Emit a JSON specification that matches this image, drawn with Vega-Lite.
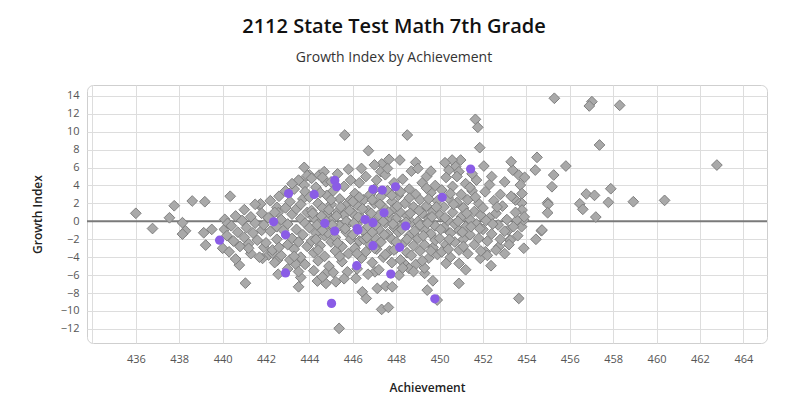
{
  "$schema": "https://vega.github.io/schema/vega-lite/v6.json",
  "width": 680,
  "height": 258,
  "autosize": "none",
  "padding": {"left": 87, "top": 85, "right": 18, "bottom": 61},
  "background": "white",
  "title": {
    "text": "2112 State Test Math 7th Grade",
    "subtitle": "Growth Index by Achievement",
    "anchor": "middle",
    "dx": -33,
    "offset": 20,
    "font": "Open Sans",
    "fontSize": 20,
    "fontWeight": 600,
    "color": "#111111",
    "subtitleFont": "Open Sans",
    "subtitleFontSize": 14,
    "subtitleColor": "#333333",
    "subtitlePadding": 14
  },
  "data": {"values": [
    {"ach":436.0,"growth":0.9,"grp":"other"},{"ach":436.77,"growth":-0.8,"grp":"other"},{"ach":437.77,"growth":1.74,"grp":"other"},{"ach":437.55,"growth":0.4,"grp":"other"},
    {"ach":438.6,"growth":2.27,"grp":"other"},{"ach":438.15,"growth":-0.15,"grp":"other"},{"ach":438.29,"growth":-1.05,"grp":"other"},{"ach":438.15,"growth":-1.42,"grp":"other"},
    {"ach":439.18,"growth":2.19,"grp":"other"},{"ach":439.13,"growth":-1.27,"grp":"other"},{"ach":439.22,"growth":-2.65,"grp":"other"},{"ach":439.5,"growth":-0.9,"grp":"other"},
    {"ach":440.1,"growth":0.22,"grp":"other"},{"ach":440.08,"growth":-0.9,"grp":"other"},{"ach":440.23,"growth":-0.22,"grp":"other"},{"ach":440.0,"growth":-3.0,"grp":"other"},
    {"ach":440.77,"growth":-4.88,"grp":"other"},{"ach":441.05,"growth":-6.9,"grp":"other"},{"ach":441.69,"growth":1.82,"grp":"other"},{"ach":441.75,"growth":1.95,"grp":"other"},
    {"ach":442.5,"growth":1.56,"grp":"other"},{"ach":442.56,"growth":0.96,"grp":"other"},{"ach":440.35,"growth":2.8,"grp":"other"},{"ach":442.56,"growth":-5.9,"grp":"other"},
    {"ach":443.5,"growth":-7.3,"grp":"other"},{"ach":443.38,"growth":-4.8,"grp":"other"},{"ach":443.6,"growth":-6.25,"grp":"other"},{"ach":444.37,"growth":-6.66,"grp":"other"},
    {"ach":444.76,"growth":-6.92,"grp":"other"},{"ach":445.22,"growth":-6.74,"grp":"other"},{"ach":444.76,"growth":-5.8,"grp":"other"},{"ach":445.37,"growth":-11.94,"grp":"other"},
    {"ach":445.75,"growth":-5.63,"grp":"other"},{"ach":446.14,"growth":-6.36,"grp":"other"},{"ach":446.44,"growth":-7.86,"grp":"other"},{"ach":446.62,"growth":-8.6,"grp":"other"},
    {"ach":442.53,"growth":-4.32,"grp":"other"},{"ach":442.12,"growth":-3.76,"grp":"other"},{"ach":441.84,"growth":-4.13,"grp":"other"},{"ach":442.3,"growth":-3.57,"grp":"other"},
    {"ach":447.33,"growth":-9.82,"grp":"other"},{"ach":447.64,"growth":-9.6,"grp":"other"},{"ach":447.13,"growth":-7.48,"grp":"other"},{"ach":447.52,"growth":-7.22,"grp":"other"},
    {"ach":447.82,"growth":-7.3,"grp":"other"},{"ach":447.02,"growth":-5.63,"grp":"other"},{"ach":448.13,"growth":-6.0,"grp":"other"},{"ach":448.44,"growth":-4.88,"grp":"other"},
    {"ach":448.59,"growth":-5.25,"grp":"other"},{"ach":449.31,"growth":-5.8,"grp":"other"},{"ach":449.69,"growth":-6.63,"grp":"other"},{"ach":449.43,"growth":-7.67,"grp":"other"},
    {"ach":449.89,"growth":-8.78,"grp":"other"},{"ach":450.89,"growth":-6.92,"grp":"other"},{"ach":450.3,"growth":-4.69,"grp":"other"},{"ach":452.37,"growth":-4.95,"grp":"other"},
    {"ach":451.88,"growth":-4.13,"grp":"other"},{"ach":452.11,"growth":-3.39,"grp":"other"},{"ach":453.88,"growth":-3.0,"grp":"other"},{"ach":453.23,"growth":-2.09,"grp":"other"},
    {"ach":452.73,"growth":-2.83,"grp":"other"},{"ach":453.65,"growth":-8.6,"grp":"other"},{"ach":454.44,"growth":-2.0,"grp":"other"},{"ach":454.69,"growth":-1.05,"grp":"other"},
    {"ach":453.74,"growth":-0.08,"grp":"other"},{"ach":453.78,"growth":-0.6,"grp":"other"},{"ach":453.88,"growth":0.15,"grp":"other"},{"ach":453.57,"growth":0.15,"grp":"other"},
    {"ach":453.18,"growth":-0.97,"grp":"other"},{"ach":453.26,"growth":-2.09,"grp":"other"},{"ach":453.78,"growth":2.04,"grp":"other"},{"ach":453.8,"growth":1.26,"grp":"other"},
    {"ach":453.5,"growth":2.38,"grp":"other"},{"ach":453.42,"growth":2.57,"grp":"other"},{"ach":453.72,"growth":4.05,"grp":"other"},{"ach":453.65,"growth":5.17,"grp":"other"},
    {"ach":453.92,"growth":4.91,"grp":"other"},{"ach":453.37,"growth":5.72,"grp":"other"},{"ach":453.3,"growth":6.65,"grp":"other"},{"ach":454.49,"growth":7.14,"grp":"other"},
    {"ach":454.41,"growth":5.72,"grp":"other"},{"ach":455.82,"growth":6.17,"grp":"other"},{"ach":455.26,"growth":5.17,"grp":"other"},{"ach":455.18,"growth":3.86,"grp":"other"},
    {"ach":454.98,"growth":2.08,"grp":"other"},{"ach":455.0,"growth":1.9,"grp":"other"},{"ach":454.98,"growth":0.96,"grp":"other"},{"ach":454.72,"growth":-0.97,"grp":"other"},
    {"ach":455.29,"growth":13.73,"grp":"other"},{"ach":457.02,"growth":13.35,"grp":"other"},{"ach":456.9,"growth":12.87,"grp":"other"},{"ach":458.3,"growth":12.94,"grp":"other"},
    {"ach":457.37,"growth":8.52,"grp":"other"},{"ach":462.78,"growth":6.28,"grp":"other"},{"ach":456.76,"growth":3.05,"grp":"other"},{"ach":457.14,"growth":2.9,"grp":"other"},
    {"ach":457.89,"growth":3.64,"grp":"other"},{"ach":456.46,"growth":1.96,"grp":"other"},{"ach":456.6,"growth":1.34,"grp":"other"},{"ach":457.78,"growth":2.12,"grp":"other"},
    {"ach":458.93,"growth":2.19,"grp":"other"},{"ach":460.37,"growth":2.34,"grp":"other"},{"ach":457.2,"growth":0.48,"grp":"other"},{"ach":451.65,"growth":11.38,"grp":"other"},
    {"ach":451.76,"growth":10.49,"grp":"other"},{"ach":451.85,"growth":8.22,"grp":"other"},{"ach":448.51,"growth":9.63,"grp":"other"},{"ach":445.63,"growth":9.63,"grp":"other"},
    {"ach":446.72,"growth":7.88,"grp":"other"},{"ach":447.67,"growth":6.92,"grp":"other"},{"ach":448.17,"growth":6.84,"grp":"other"},{"ach":448.9,"growth":6.58,"grp":"other"},
    {"ach":452.04,"growth":6.17,"grp":"other"},{"ach":450.97,"growth":6.84,"grp":"other"},{"ach":450.58,"growth":6.84,"grp":"other"},{"ach":450.25,"growth":6.54,"grp":"other"},
    {"ach":450.74,"growth":6.1,"grp":"other"},{"ach":450.43,"growth":5.72,"grp":"other"},{"ach":450.89,"growth":5.54,"grp":"other"},{"ach":447.33,"growth":6.4,"grp":"other"},
    {"ach":447.29,"growth":5.54,"grp":"other"},{"ach":443.76,"growth":6.02,"grp":"other"},{"ach":444.0,"growth":5.17,"grp":"other"},{"ach":444.45,"growth":5.17,"grp":"other"},
    {"ach":444.68,"growth":5.54,"grp":"other"},{"ach":444.76,"growth":4.42,"grp":"other"},{"ach":443.61,"growth":4.42,"grp":"other"},{"ach":443.76,"growth":4.05,"grp":"other"},
    {"ach":440.2,"growth":-1.6,"grp":"other"},{"ach":440.4,"growth":-0.5,"grp":"other"},{"ach":440.5,"growth":-2.2,"grp":"other"},{"ach":440.6,"growth":0.6,"grp":"other"},
    {"ach":440.7,"growth":-1.2,"grp":"other"},{"ach":440.8,"growth":-2.8,"grp":"other"},{"ach":440.9,"growth":0.1,"grp":"other"},{"ach":441.0,"growth":-1.8,"grp":"other"},
    {"ach":441.1,"growth":-0.7,"grp":"other"},{"ach":441.2,"growth":-2.5,"grp":"other"},{"ach":441.3,"growth":0.5,"grp":"other"},{"ach":441.3,"growth":-3.6,"grp":"other"},
    {"ach":441.4,"growth":-1.3,"grp":"other"},{"ach":441.5,"growth":-0.2,"grp":"other"},{"ach":441.6,"growth":-2.1,"grp":"other"},{"ach":441.7,"growth":-4.0,"grp":"other"},
    {"ach":441.8,"growth":0.9,"grp":"other"},{"ach":441.8,"growth":-1.0,"grp":"other"},{"ach":441.9,"growth":-2.9,"grp":"other"},{"ach":441.9,"growth":-0.4,"grp":"other"},
    {"ach":440.3,"growth":-3.4,"grp":"other"},{"ach":441.0,"growth":1.3,"grp":"other"},{"ach":441.5,"growth":1.9,"grp":"other"},{"ach":440.6,"growth":-4.2,"grp":"other"},
    {"ach":441.2,"growth":-3.0,"grp":"other"},
    {"ach":442.0,"growth":-2.4,"grp":"other"},{"ach":442.1,"growth":0.4,"grp":"other"},{"ach":442.2,"growth":-1.1,"grp":"other"},{"ach":442.2,"growth":2.3,"grp":"other"},
    {"ach":442.3,"growth":-3.2,"grp":"other"},{"ach":442.4,"growth":1.0,"grp":"other"},{"ach":442.5,"growth":-0.6,"grp":"other"},{"ach":442.5,"growth":-2.0,"grp":"other"},
    {"ach":442.6,"growth":2.8,"grp":"other"},{"ach":442.7,"growth":-3.8,"grp":"other"},{"ach":442.7,"growth":0.2,"grp":"other"},{"ach":442.8,"growth":-1.0,"grp":"other"},
    {"ach":442.9,"growth":1.5,"grp":"other"},{"ach":443.0,"growth":-2.6,"grp":"other"},{"ach":443.0,"growth":-0.3,"grp":"other"},{"ach":443.1,"growth":2.2,"grp":"other"},
    {"ach":443.1,"growth":-4.3,"grp":"other"},{"ach":443.2,"growth":0.8,"grp":"other"},{"ach":443.2,"growth":-1.9,"grp":"other"},{"ach":443.3,"growth":-3.1,"grp":"other"},
    {"ach":443.3,"growth":3.6,"grp":"other"},{"ach":443.4,"growth":-0.9,"grp":"other"},{"ach":443.4,"growth":1.4,"grp":"other"},{"ach":443.5,"growth":-2.3,"grp":"other"},
    {"ach":443.5,"growth":4.6,"grp":"other"},{"ach":443.6,"growth":0.3,"grp":"other"},{"ach":443.6,"growth":-4.0,"grp":"other"},{"ach":443.7,"growth":2.5,"grp":"other"},
    {"ach":443.7,"growth":-1.5,"grp":"other"},{"ach":443.8,"growth":-0.2,"grp":"other"},{"ach":443.8,"growth":3.3,"grp":"other"},{"ach":443.9,"growth":-2.8,"grp":"other"},
    {"ach":443.9,"growth":1.0,"grp":"other"},{"ach":443.9,"growth":5.1,"grp":"other"},{"ach":442.4,"growth":-4.6,"grp":"other"},{"ach":443.0,"growth":-5.3,"grp":"other"},
    {"ach":443.5,"growth":-5.6,"grp":"other"},{"ach":442.9,"growth":3.4,"grp":"other"},{"ach":443.3,"growth":-3.9,"grp":"other"},{"ach":443.8,"growth":-4.8,"grp":"other"},
    {"ach":442.6,"growth":-2.9,"grp":"other"},{"ach":443.2,"growth":4.2,"grp":"other"},{"ach":443.6,"growth":1.9,"grp":"other"},
    {"ach":444.0,"growth":-0.7,"grp":"other"},{"ach":444.0,"growth":2.7,"grp":"other"},{"ach":444.1,"growth":-2.2,"grp":"other"},{"ach":444.1,"growth":1.2,"grp":"other"},
    {"ach":444.2,"growth":-3.5,"grp":"other"},{"ach":444.2,"growth":0.4,"grp":"other"},{"ach":444.3,"growth":-1.3,"grp":"other"},{"ach":444.3,"growth":3.8,"grp":"other"},
    {"ach":444.4,"growth":-4.4,"grp":"other"},{"ach":444.4,"growth":2.0,"grp":"other"},{"ach":444.5,"growth":-0.1,"grp":"other"},{"ach":444.5,"growth":-2.7,"grp":"other"},
    {"ach":444.6,"growth":1.5,"grp":"other"},{"ach":444.6,"growth":4.9,"grp":"other"},{"ach":444.7,"growth":-1.6,"grp":"other"},{"ach":444.7,"growth":-3.9,"grp":"other"},
    {"ach":444.8,"growth":0.8,"grp":"other"},{"ach":444.8,"growth":2.9,"grp":"other"},{"ach":444.9,"growth":-0.9,"grp":"other"},{"ach":444.9,"growth":-5.0,"grp":"other"},
    {"ach":445.0,"growth":1.9,"grp":"other"},{"ach":445.0,"growth":-2.3,"grp":"other"},{"ach":445.1,"growth":0.3,"grp":"other"},{"ach":445.1,"growth":3.4,"grp":"other"},
    {"ach":445.2,"growth":-1.8,"grp":"other"},{"ach":445.2,"growth":-3.3,"grp":"other"},{"ach":445.3,"growth":1.1,"grp":"other"},{"ach":445.3,"growth":5.3,"grp":"other"},
    {"ach":445.4,"growth":-0.5,"grp":"other"},{"ach":445.4,"growth":2.5,"grp":"other"},{"ach":445.5,"growth":-2.8,"grp":"other"},{"ach":445.5,"growth":-4.5,"grp":"other"},
    {"ach":445.6,"growth":0.7,"grp":"other"},{"ach":445.6,"growth":3.9,"grp":"other"},{"ach":445.7,"growth":-1.2,"grp":"other"},{"ach":445.7,"growth":1.8,"grp":"other"},
    {"ach":445.8,"growth":-3.6,"grp":"other"},{"ach":445.8,"growth":-0.2,"grp":"other"},{"ach":445.9,"growth":2.4,"grp":"other"},{"ach":445.9,"growth":4.6,"grp":"other"},
    {"ach":445.9,"growth":-2.0,"grp":"other"},{"ach":444.2,"growth":-5.5,"grp":"other"},{"ach":444.6,"growth":-6.2,"grp":"other"},{"ach":445.1,"growth":-5.7,"grp":"other"},
    {"ach":445.6,"growth":-6.4,"grp":"other"},{"ach":444.5,"growth":3.2,"grp":"other"},{"ach":445.0,"growth":4.4,"grp":"other"},{"ach":445.8,"growth":5.8,"grp":"other"},
    {"ach":444.3,"growth":-2.0,"grp":"other"},{"ach":444.9,"growth":1.3,"grp":"other"},{"ach":445.4,"growth":-3.9,"grp":"other"},{"ach":445.7,"growth":0.0,"grp":"other"},
    {"ach":444.1,"growth":4.8,"grp":"other"},{"ach":444.7,"growth":0.2,"grp":"other"},
    {"ach":446.0,"growth":0.9,"grp":"other"},{"ach":446.0,"growth":-1.5,"grp":"other"},{"ach":446.1,"growth":3.1,"grp":"other"},{"ach":446.1,"growth":-3.0,"grp":"other"},
    {"ach":446.2,"growth":1.8,"grp":"other"},{"ach":446.2,"growth":-0.3,"grp":"other"},{"ach":446.3,"growth":-2.2,"grp":"other"},{"ach":446.3,"growth":4.3,"grp":"other"},
    {"ach":446.4,"growth":0.4,"grp":"other"},{"ach":446.4,"growth":-4.1,"grp":"other"},{"ach":446.5,"growth":2.4,"grp":"other"},{"ach":446.5,"growth":-1.1,"grp":"other"},
    {"ach":446.6,"growth":-3.4,"grp":"other"},{"ach":446.6,"growth":5.0,"grp":"other"},{"ach":446.7,"growth":1.2,"grp":"other"},{"ach":446.7,"growth":-0.6,"grp":"other"},
    {"ach":446.8,"growth":-2.6,"grp":"other"},{"ach":446.8,"growth":3.0,"grp":"other"},{"ach":446.9,"growth":0.1,"grp":"other"},{"ach":446.9,"growth":-4.6,"grp":"other"},
    {"ach":447.0,"growth":2.0,"grp":"other"},{"ach":447.0,"growth":-1.8,"grp":"other"},{"ach":447.1,"growth":4.6,"grp":"other"},{"ach":447.1,"growth":-3.1,"grp":"other"},
    {"ach":447.2,"growth":0.7,"grp":"other"},{"ach":447.2,"growth":-0.9,"grp":"other"},{"ach":447.3,"growth":2.8,"grp":"other"},{"ach":447.3,"growth":-2.3,"grp":"other"},
    {"ach":447.4,"growth":-4.0,"grp":"other"},{"ach":447.4,"growth":1.6,"grp":"other"},{"ach":447.5,"growth":-0.2,"grp":"other"},{"ach":447.5,"growth":5.2,"grp":"other"},
    {"ach":447.6,"growth":-1.4,"grp":"other"},{"ach":447.6,"growth":3.4,"grp":"other"},{"ach":447.7,"growth":-3.3,"grp":"other"},{"ach":447.7,"growth":0.5,"grp":"other"},
    {"ach":447.8,"growth":2.2,"grp":"other"},{"ach":447.8,"growth":-2.0,"grp":"other"},{"ach":447.9,"growth":-0.7,"grp":"other"},{"ach":447.9,"growth":4.3,"grp":"other"},
    {"ach":446.2,"growth":-5.3,"grp":"other"},{"ach":446.7,"growth":-5.9,"grp":"other"},{"ach":447.2,"growth":-5.4,"grp":"other"},{"ach":447.8,"growth":-4.6,"grp":"other"},
    {"ach":446.4,"growth":5.9,"grp":"other"},{"ach":447.0,"growth":6.3,"grp":"other"},{"ach":447.6,"growth":5.9,"grp":"other"},{"ach":446.5,"growth":-2.0,"grp":"other"},
    {"ach":447.0,"growth":3.6,"grp":"other"},{"ach":447.4,"growth":0.0,"grp":"other"},{"ach":447.9,"growth":1.4,"grp":"other"},{"ach":446.9,"growth":-1.2,"grp":"other"},
    {"ach":446.3,"growth":2.7,"grp":"other"},{"ach":447.5,"growth":-3.7,"grp":"other"},
    {"ach":448.0,"growth":0.3,"grp":"other"},{"ach":448.0,"growth":-3.0,"grp":"other"},{"ach":448.1,"growth":2.9,"grp":"other"},{"ach":448.1,"growth":-1.2,"grp":"other"},
    {"ach":448.2,"growth":1.0,"grp":"other"},{"ach":448.2,"growth":-4.3,"grp":"other"},{"ach":448.3,"growth":4.7,"grp":"other"},{"ach":448.3,"growth":-0.4,"grp":"other"},
    {"ach":448.4,"growth":-2.3,"grp":"other"},{"ach":448.4,"growth":2.0,"grp":"other"},{"ach":448.5,"growth":0.6,"grp":"other"},{"ach":448.5,"growth":-3.5,"grp":"other"},
    {"ach":448.6,"growth":3.6,"grp":"other"},{"ach":448.6,"growth":-1.6,"grp":"other"},{"ach":448.7,"growth":5.6,"grp":"other"},{"ach":448.7,"growth":-0.1,"grp":"other"},
    {"ach":448.8,"growth":-2.7,"grp":"other"},{"ach":448.8,"growth":1.6,"grp":"other"},{"ach":448.9,"growth":-4.8,"grp":"other"},{"ach":448.9,"growth":3.0,"grp":"other"},
    {"ach":449.0,"growth":0.0,"grp":"other"},{"ach":449.0,"growth":-1.9,"grp":"other"},{"ach":449.1,"growth":2.4,"grp":"other"},{"ach":449.1,"growth":-3.3,"grp":"other"},
    {"ach":449.2,"growth":4.3,"grp":"other"},{"ach":449.2,"growth":0.9,"grp":"other"},{"ach":449.3,"growth":-0.9,"grp":"other"},{"ach":449.3,"growth":-2.6,"grp":"other"},
    {"ach":449.4,"growth":1.7,"grp":"other"},{"ach":449.4,"growth":5.0,"grp":"other"},{"ach":449.5,"growth":-4.1,"grp":"other"},{"ach":449.5,"growth":0.3,"grp":"other"},
    {"ach":449.6,"growth":3.2,"grp":"other"},{"ach":449.6,"growth":-1.4,"grp":"other"},{"ach":449.7,"growth":-2.9,"grp":"other"},{"ach":449.7,"growth":1.1,"grp":"other"},
    {"ach":449.8,"growth":4.0,"grp":"other"},{"ach":449.8,"growth":-0.5,"grp":"other"},{"ach":449.9,"growth":2.3,"grp":"other"},{"ach":449.9,"growth":-3.7,"grp":"other"},
    {"ach":448.3,"growth":-5.2,"grp":"other"},{"ach":448.8,"growth":-5.6,"grp":"other"},{"ach":449.3,"growth":-5.2,"grp":"other"},{"ach":449.0,"growth":5.9,"grp":"other"},
    {"ach":449.6,"growth":5.6,"grp":"other"},{"ach":448.5,"growth":-2.0,"grp":"other"},{"ach":449.1,"growth":-0.4,"grp":"other"},{"ach":449.4,"growth":3.7,"grp":"other"},
    {"ach":448.2,"growth":3.3,"grp":"other"},{"ach":449.8,"growth":-2.1,"grp":"other"},
    {"ach":450.0,"growth":0.7,"grp":"other"},{"ach":450.0,"growth":-1.9,"grp":"other"},{"ach":450.1,"growth":3.5,"grp":"other"},{"ach":450.1,"growth":-3.4,"grp":"other"},
    {"ach":450.2,"growth":1.6,"grp":"other"},{"ach":450.2,"growth":-0.7,"grp":"other"},{"ach":450.3,"growth":4.9,"grp":"other"},{"ach":450.3,"growth":-2.6,"grp":"other"},
    {"ach":450.4,"growth":0.1,"grp":"other"},{"ach":450.4,"growth":2.6,"grp":"other"},{"ach":450.5,"growth":-1.3,"grp":"other"},{"ach":450.5,"growth":-4.0,"grp":"other"},
    {"ach":450.6,"growth":3.9,"grp":"other"},{"ach":450.6,"growth":1.0,"grp":"other"},{"ach":450.7,"growth":-0.3,"grp":"other"},{"ach":450.7,"growth":-2.3,"grp":"other"},
    {"ach":450.8,"growth":2.1,"grp":"other"},{"ach":450.8,"growth":5.0,"grp":"other"},{"ach":450.9,"growth":-1.0,"grp":"other"},{"ach":450.9,"growth":-3.2,"grp":"other"},
    {"ach":451.0,"growth":0.5,"grp":"other"},{"ach":451.0,"growth":3.0,"grp":"other"},{"ach":451.1,"growth":-2.0,"grp":"other"},{"ach":451.1,"growth":1.5,"grp":"other"},
    {"ach":451.2,"growth":4.2,"grp":"other"},{"ach":451.2,"growth":-0.6,"grp":"other"},{"ach":451.3,"growth":-3.6,"grp":"other"},{"ach":451.3,"growth":2.4,"grp":"other"},
    {"ach":451.4,"growth":0.2,"grp":"other"},{"ach":451.4,"growth":-1.5,"grp":"other"},{"ach":451.5,"growth":3.4,"grp":"other"},{"ach":451.6,"growth":-2.6,"grp":"other"},
    {"ach":451.6,"growth":1.1,"grp":"other"},{"ach":451.7,"growth":4.6,"grp":"other"},{"ach":451.7,"growth":-0.3,"grp":"other"},{"ach":451.8,"growth":2.0,"grp":"other"},
    {"ach":451.8,"growth":-1.9,"grp":"other"},{"ach":451.9,"growth":-3.3,"grp":"other"},{"ach":451.9,"growth":0.7,"grp":"other"},{"ach":451.5,"growth":5.3,"grp":"other"},
    {"ach":450.9,"growth":-4.7,"grp":"other"},{"ach":451.2,"growth":-5.4,"grp":"other"},
    {"ach":452.0,"growth":1.5,"grp":"other"},{"ach":452.0,"growth":-0.9,"grp":"other"},{"ach":452.1,"growth":3.3,"grp":"other"},{"ach":452.2,"growth":-2.2,"grp":"other"},
    {"ach":452.3,"growth":0.4,"grp":"other"},{"ach":452.3,"growth":4.1,"grp":"other"},{"ach":452.4,"growth":-1.4,"grp":"other"},{"ach":452.5,"growth":2.3,"grp":"other"},
    {"ach":452.6,"growth":-3.2,"grp":"other"},{"ach":452.6,"growth":0.9,"grp":"other"},{"ach":452.7,"growth":-0.4,"grp":"other"},{"ach":452.8,"growth":3.0,"grp":"other"},
    {"ach":452.8,"growth":-2.0,"grp":"other"},{"ach":452.9,"growth":1.7,"grp":"other"},{"ach":453.0,"growth":-1.1,"grp":"other"},{"ach":453.0,"growth":4.4,"grp":"other"},
    {"ach":453.1,"growth":0.2,"grp":"other"},{"ach":453.2,"growth":-2.6,"grp":"other"},{"ach":453.3,"growth":2.8,"grp":"other"},{"ach":453.4,"growth":-0.6,"grp":"other"},
    {"ach":453.5,"growth":1.0,"grp":"other"},{"ach":453.6,"growth":-1.6,"grp":"other"},{"ach":453.8,"growth":3.1,"grp":"other"},{"ach":453.9,"growth":0.5,"grp":"other"},
    {"ach":452.4,"growth":5.0,"grp":"other"},{"ach":452.2,"growth":-3.8,"grp":"other"},{"ach":453.0,"growth":-3.6,"grp":"other"},
    {"ach":444.15,"growth":0.9,"grp":"other"},{"ach":444.35,"growth":-0.4,"grp":"other"},{"ach":444.55,"growth":0.6,"grp":"other"},{"ach":444.85,"growth":-1.3,"grp":"other"},
    {"ach":445.05,"growth":-0.4,"grp":"other"},{"ach":445.25,"growth":0.6,"grp":"other"},{"ach":445.45,"growth":1.6,"grp":"other"},{"ach":445.65,"growth":-0.8,"grp":"other"},
    {"ach":445.85,"growth":1.2,"grp":"other"},{"ach":446.05,"growth":-0.2,"grp":"other"},{"ach":446.25,"growth":0.5,"grp":"other"},{"ach":446.45,"growth":1.4,"grp":"other"},
    {"ach":446.65,"growth":-1.8,"grp":"other"},{"ach":446.85,"growth":0.9,"grp":"other"},{"ach":447.05,"growth":-0.4,"grp":"other"},{"ach":447.25,"growth":1.9,"grp":"other"},
    {"ach":447.45,"growth":-1.5,"grp":"other"},{"ach":447.65,"growth":1.0,"grp":"other"},{"ach":447.85,"growth":-0.3,"grp":"other"},{"ach":448.05,"growth":1.7,"grp":"other"},
    {"ach":448.25,"growth":-0.9,"grp":"other"},{"ach":448.45,"growth":-0.1,"grp":"other"},{"ach":448.65,"growth":0.9,"grp":"other"},{"ach":448.85,"growth":-1.1,"grp":"other"},
    {"ach":449.05,"growth":1.2,"grp":"other"},{"ach":449.25,"growth":-1.6,"grp":"other"},{"ach":449.45,"growth":-0.2,"grp":"other"},{"ach":449.65,"growth":0.5,"grp":"other"},
    {"ach":449.85,"growth":1.6,"grp":"other"},{"ach":450.05,"growth":-0.9,"grp":"other"},{"ach":450.25,"growth":0.4,"grp":"other"},{"ach":450.45,"growth":-2.0,"grp":"other"},
    {"ach":450.65,"growth":1.9,"grp":"other"},{"ach":450.85,"growth":0.0,"grp":"other"},{"ach":451.05,"growth":-1.2,"grp":"other"},{"ach":451.25,"growth":0.9,"grp":"other"},
    {"ach":451.45,"growth":-0.6,"grp":"other"},{"ach":451.65,"growth":2.7,"grp":"other"},{"ach":451.85,"growth":-0.8,"grp":"other"},{"ach":452.15,"growth":0.1,"grp":"other"},
    {"ach":452.45,"growth":-0.3,"grp":"other"},{"ach":452.65,"growth":1.6,"grp":"other"},{"ach":444.4,"growth":-3.2,"grp":"other"},{"ach":445.3,"growth":-2.4,"grp":"other"},
    {"ach":446.2,"growth":-3.6,"grp":"other"},{"ach":447.0,"growth":-3.0,"grp":"other"},{"ach":447.9,"growth":-3.2,"grp":"other"},{"ach":448.7,"growth":-3.8,"grp":"other"},
    {"ach":449.6,"growth":-3.3,"grp":"other"},{"ach":450.4,"growth":-3.1,"grp":"other"},{"ach":451.1,"growth":-2.8,"grp":"other"},{"ach":445.0,"growth":2.4,"grp":"other"},
    {"ach":446.0,"growth":2.2,"grp":"other"},{"ach":446.9,"growth":2.4,"grp":"other"},{"ach":447.8,"growth":2.9,"grp":"other"},{"ach":448.6,"growth":2.6,"grp":"other"},
    {"ach":449.5,"growth":2.5,"grp":"other"},{"ach":450.5,"growth":3.1,"grp":"other"},{"ach":451.4,"growth":3.8,"grp":"other"},{"ach":444.6,"growth":-1.0,"grp":"other"},
    {"ach":448.0,"growth":-2.3,"grp":"other"},{"ach":449.2,"growth":-4.4,"grp":"other"},
    {"ach":439.86,"growth":-2.1,"grp":"student"},{"ach":442.35,"growth":-0.05,"grp":"student"},{"ach":443.04,"growth":3.1,"grp":"student"},{"ach":442.9,"growth":-1.5,"grp":"student"},
    {"ach":442.9,"growth":-5.75,"grp":"student"},{"ach":444.22,"growth":3.0,"grp":"student"},{"ach":445.17,"growth":4.57,"grp":"student"},{"ach":445.26,"growth":3.86,"grp":"student"},
    {"ach":444.71,"growth":-0.22,"grp":"student"},{"ach":446.57,"growth":0.2,"grp":"student"},{"ach":446.21,"growth":-0.8,"grp":"student"},{"ach":445.17,"growth":-1.08,"grp":"student"},
    {"ach":446.24,"growth":-0.97,"grp":"student"},{"ach":446.18,"growth":-4.95,"grp":"student"},{"ach":445.02,"growth":-9.15,"grp":"student"},{"ach":446.93,"growth":3.57,"grp":"student"},
    {"ach":447.36,"growth":3.49,"grp":"student"},{"ach":447.97,"growth":3.86,"grp":"student"},{"ach":450.12,"growth":2.68,"grp":"student"},{"ach":451.43,"growth":5.84,"grp":"student"},
    {"ach":447.44,"growth":0.96,"grp":"student"},{"ach":446.93,"growth":-0.15,"grp":"student"},{"ach":448.44,"growth":-0.52,"grp":"student"},{"ach":446.93,"growth":-2.72,"grp":"student"},
    {"ach":448.16,"growth":-2.9,"grp":"student"},{"ach":447.75,"growth":-5.88,"grp":"student"},{"ach":449.78,"growth":-8.64,"grp":"student"}
  ]},
  "layer": [
    {
      "data": {"values": [{"zero": 0}]},
      "mark": {"type": "rule", "color": "#7a7a7a", "strokeWidth": 2},
      "encoding": {
        "y": {"field": "zero", "type": "quantitative", "scale": {"domain": [-13.57, 15.21], "nice": false, "zero": false},
          "axis": {"title": "Growth Index", "values": [-12,-10,-8,-6,-4,-2,0,2,4,6,8,10,12,14], "labelOverlap": false, "titlePadding": 16, "labelPadding": 8}}
      }
    },
    {
      "transform": [{"filter": "datum.grp == 'other'"}],
      "mark": {"type": "point", "shape": "diamond", "filled": true, "size": 115, "fill": "#a9a9a9", "stroke": "#7f7f7f", "strokeWidth": 1, "opacity": 1},
      "encoding": {
        "x": {"field": "ach", "type": "quantitative", "scale": {"domain": [433.75, 465.09], "nice": false, "zero": false},
          "axis": {"title": "Achievement", "values": [434,436,438,440,442,444,446,448,450,452,454,456,458,460,462,464], "labelExpr": "datum.value == 434 ? '' : datum.label", "labelFlush": false, "labelOverlap": false, "titlePadding": 18, "labelPadding": 10}},
        "y": {"field": "growth", "type": "quantitative", "scale": {"domain": [-13.57, 15.21], "nice": false, "zero": false},
          "axis": {"title": "Growth Index", "values": [-12,-10,-8,-6,-4,-2,0,2,4,6,8,10,12,14], "labelOverlap": false, "titlePadding": 16, "labelPadding": 8}}
      }
    },
    {
      "transform": [{"filter": "datum.grp == 'student'"}],
      "mark": {"type": "circle", "size": 85, "color": "#8a5ce6", "opacity": 1},
      "encoding": {
        "x": {"field": "ach", "type": "quantitative",
          "axis": {"title": "Achievement", "values": [434,436,438,440,442,444,446,448,450,452,454,456,458,460,462,464], "labelExpr": "datum.value == 434 ? '' : datum.label", "labelFlush": false, "labelOverlap": false, "titlePadding": 18, "labelPadding": 10}},
        "y": {"field": "growth", "type": "quantitative",
          "axis": {"title": "Growth Index", "values": [-12,-10,-8,-6,-4,-2,0,2,4,6,8,10,12,14], "labelOverlap": false, "titlePadding": 16, "labelPadding": 8}}
      }
    }
  ],
  "resolve": {"scale": {"x": "shared", "y": "shared"}},
  "config": {
    "view": {"stroke": "#cfcfcf", "strokeWidth": 1, "cornerRadius": 6},
    "axis": {
      "grid": true, "gridColor": "#dddddd", "gridWidth": 1,
      "domain": false, "ticks": false,
      "labelFont": "Open Sans", "labelFontSize": 11, "labelColor": "#555555",
      "titleFont": "Open Sans", "titleFontSize": 12, "titleFontWeight": 600, "titleColor": "#222222"
    }
  }
}
